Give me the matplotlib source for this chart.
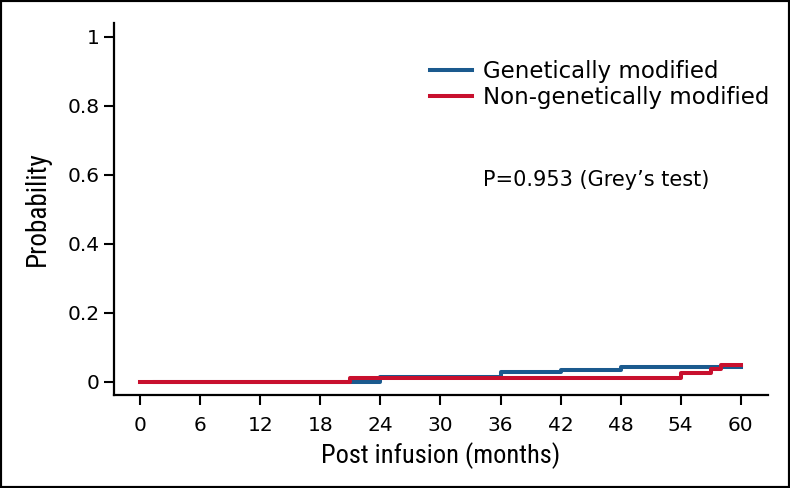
import matplotlib
matplotlib.use("Agg")
import matplotlib.pyplot as plt
from matplotlib import font_manager
from matplotlib.patches import Rectangle

# step data (cumulative incidence)
gm_time = [1.5, 24, 36, 42, 48, 60]
gm_prob = [0.0, 0.015, 0.028, 0.033, 0.044, 0.044]
ngm_time = [0, 21, 54, 57, 58, 60]
ngm_prob = [0.0, 0.011, 0.025, 0.038, 0.049, 0.049]

x_ticks = [0, 6, 12, 18, 24, 30, 36, 42, 48, 54, 60]
y_ticks = [0, 0.2, 0.4, 0.6, 0.8, 1]
y_tick_labels = ["0", "0.2", "0.4", "0.6", "0.8", "1"]

blue = "#1b5a8e"
red = "#c8102e"

plt.rcParams['font.family'] = ['DejaVu Sans']

# narrow face for the axis titles, if one is around
names = sorted({f.name for f in font_manager.fontManager.ttflist})
narrow = None
for cand in ['Liberation Sans Narrow', 'Roboto Condensed', 'Open Sans Condensed',
             'DejaVu Sans Condensed']:
    if cand in names:
        narrow = cand
        break

fig = plt.figure(figsize=(7.9, 4.88), dpi=100)
ax = fig.add_axes([0.1443, 0.1906, 0.8277, 0.7623])

ax.step(gm_time, gm_prob, where='post', color=blue, lw=2.9, label='Genetically modified')
ax.step(ngm_time, ngm_prob, where='post', color=red, lw=2.9, label='Non-genetically modified')

ax.set_xlim(-2.6, 62.7)
ax.set_ylim(-0.038, 1.04)
ax.set_xticks(x_ticks)
ax.set_yticks(y_ticks)
ax.set_yticklabels(y_tick_labels)
ax.tick_params(axis='both', direction='out', length=7, width=1.5, labelsize=14.5)
ax.tick_params(axis='x', pad=8)

for side in ['top', 'right']:
    ax.spines[side].set_visible(False)
for side in ['left', 'bottom']:
    ax.spines[side].set_linewidth(1.6)

lab_font = {}
if narrow:
    lab_font['family'] = narrow
else:
    lab_font['stretch'] = 'condensed'
ax.set_xlabel('Post infusion (months)', fontsize=19, labelpad=5, **lab_font)
ax.set_ylabel('Probability', fontsize=19.5, labelpad=12, **lab_font)

ax.legend(loc='upper left', bbox_to_anchor=(0.483, 0.90), frameon=False,
          fontsize=16.5, handlelength=1.85, handletextpad=0.45, labelspacing=0.12,
          borderpad=0, borderaxespad=0)

ax.text(0.565, 0.578, "P=0.953 (Grey\u2019s test)", transform=ax.transAxes,
        fontsize=15, va='center', ha='left')

# black frame round the whole picture
fig.patches.append(Rectangle((0, 0), 1, 1, transform=fig.transFigure,
                             fill=False, edgecolor='black', lw=3))

fig.savefig('out.png', dpi=100)
